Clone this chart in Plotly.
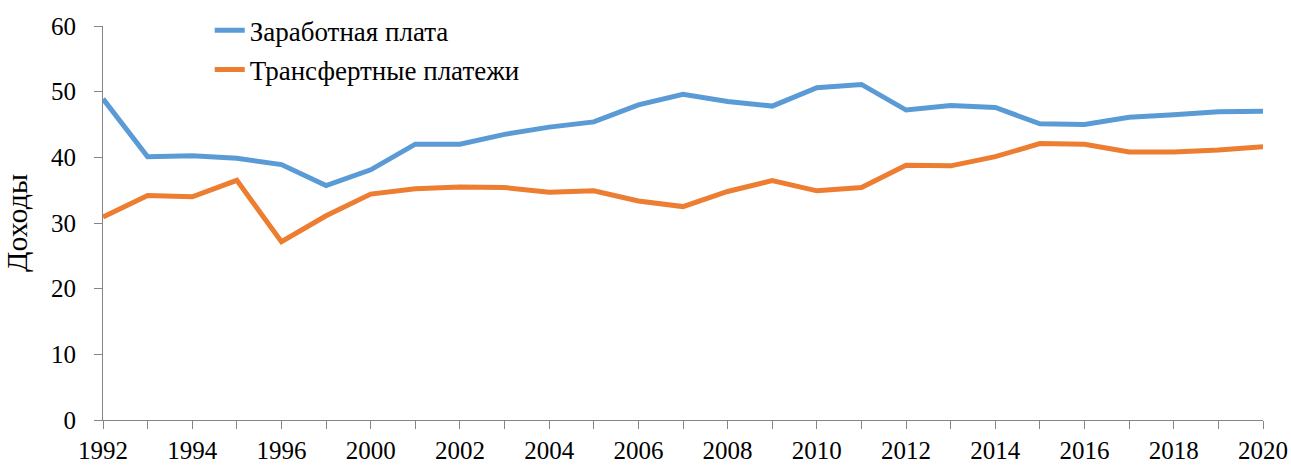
import plotly.graph_objects as go

# годы (между 1996 и 2000 одна точка без подписи)
years = ["1992", "1993", "1994", "1995", "1996", "1998", "2000", "2001", "2002",
         "2003", "2004", "2005", "2006", "2007", "2008", "2009", "2010", "2011",
         "2012", "2013", "2014", "2015", "2016", "2017", "2018", "2019", "2020"]

# доходы: заработная плата
wages = [48.9, 40.1, 40.25, 39.85, 38.9, 35.7, 38.1, 42.0, 42.0,
         43.5, 44.6, 45.4, 48.0, 49.6, 48.5, 47.8, 50.6, 51.1,
         47.2, 47.9, 47.6, 45.1, 45.0, 46.1, 46.5, 46.95, 47.0]

# доходы: трансфертные платежи
transfers = [30.9, 34.2, 34.0, 36.5, 27.15, 31.1, 34.4, 35.2, 35.5,
             35.4, 34.7, 34.9, 33.35, 32.5, 34.8, 36.45, 34.9, 35.4,
             38.8, 38.7, 40.1, 42.1, 42.0, 40.8, 40.8, 41.1, 41.6]

# подписи только у каждой второй точки
tick_text = [y if i % 2 == 0 else "" for i, y in enumerate(years)]

FONT = "Liberation Serif"
AXIS_GRAY = "#858585"

fig = go.Figure()
fig.add_trace(go.Scatter(x=years, y=wages, mode="lines", name="Заработная плата",
                         legendgroup="a",
                         line=dict(color="#5B9BD5", width=5)))
fig.add_trace(go.Scatter(x=years, y=transfers, mode="lines", name="Трансфертные платежи",
                         legendgroup="b",
                         line=dict(color="#ED7D31", width=5)))

fig.update_layout(
    width=1291,
    height=466,
    paper_bgcolor="white",
    plot_bgcolor="white",
    margin=dict(l=103, r=28, t=26, b=46, autoexpand=False),
    font=dict(family=FONT, size=25, color="black"),
    legend=dict(x=0.092, y=1.05, xanchor="left", yanchor="top",
                tracegroupgap=1,
                bgcolor="rgba(0,0,0,0)", font=dict(size=27)),
    xaxis=dict(
        type="category",
        range=[0, len(years) - 1],
        tickmode="array",
        tickvals=years,
        ticktext=tick_text,
        ticks="outside",
        ticklen=8,
        tickcolor=AXIS_GRAY,
        showline=True,
        linecolor=AXIS_GRAY,
        linewidth=1,
        showgrid=False,
        tickangle=0,
        automargin=False,
    ),
    yaxis=dict(
        range=[0, 60],
        dtick=10,
        ticks="outside",
        ticklen=8,
        tickcolor=AXIS_GRAY,
        showline=True,
        linecolor=AXIS_GRAY,
        linewidth=1,
        showgrid=False,
        zeroline=False,
        ticklabelstandoff=13,
        automargin=False,
        title=dict(text="Доходы", standoff=18),
    ),
)

# убираем стандартный отступ страницы, чтобы фигура заняла всё окно
fig.write_html("out.html", config={"displayModeBar": False},
               post_script="document.body.style.margin='0';")
